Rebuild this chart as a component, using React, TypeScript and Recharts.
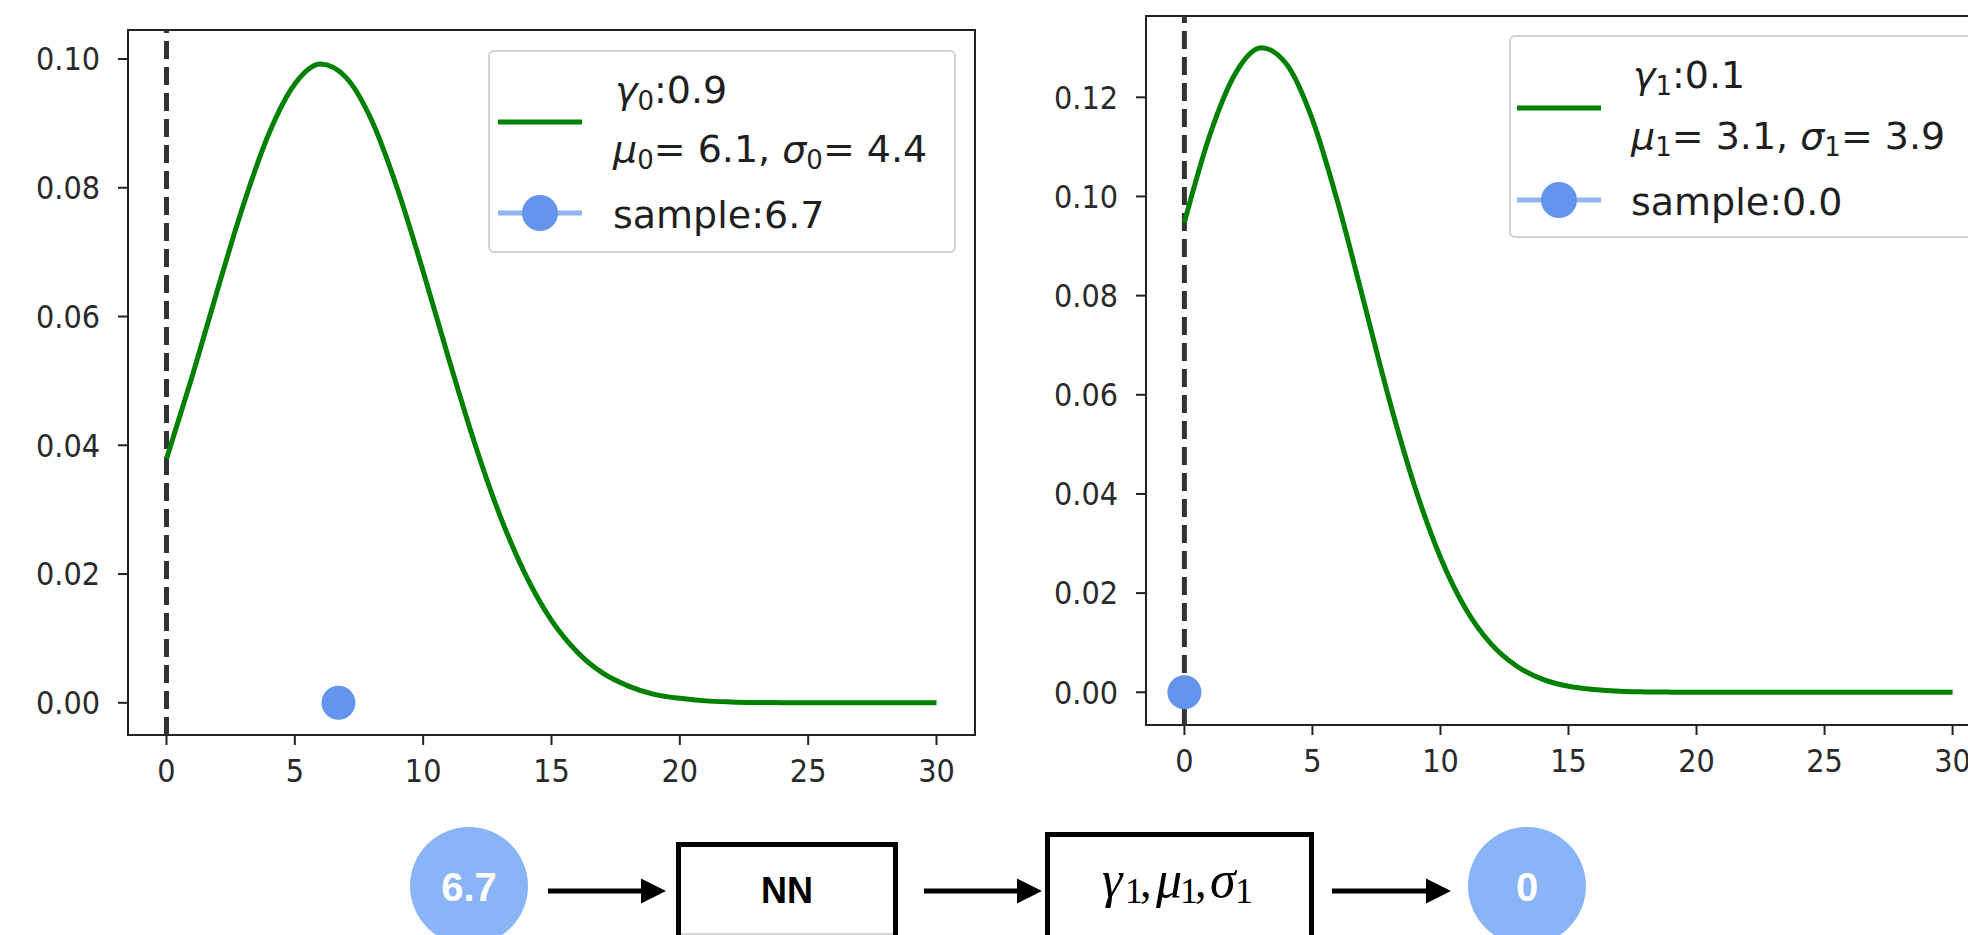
import React from "react";
import {
  ComposedChart,
  Line,
  Scatter,
  XAxis,
  YAxis,
  ReferenceLine,
  ReferenceArea,
  Legend,
} from "recharts";

// ---------------- data ----------------
const xValues = [
  0, 1, 2, 3, 4, 5, 6, 7, 8, 9, 10, 11, 12, 13, 14, 15, 16, 17, 18, 19, 20,
  21, 22, 23, 24, 25, 26, 27, 28, 29, 30,
];
const leftDensity = [
  0.0379, 0.0507, 0.0643, 0.0774, 0.0885, 0.0961, 0.0992, 0.0971, 0.0904,
  0.0798, 0.067, 0.0534, 0.0404, 0.029, 0.0198, 0.0128, 0.0079, 0.0046,
  0.0026, 0.0013, 0.0007, 0.0003, 0.00014, 0.00006, 0.00002, 0, 0, 0, 0, 0, 0,
];
const rightDensity = [
  0.0948, 0.1125, 0.1249, 0.13, 0.1266, 0.1155, 0.0986, 0.0789, 0.059, 0.0414,
  0.0272, 0.0167, 0.0096, 0.0052, 0.0026, 0.0012, 0.00055, 0.0002, 0.00008,
  0.00003, 0, 0, 0, 0, 0, 0, 0, 0, 0, 0, 0,
];
const gammaValues = [0.9, 0.1];
const muValues = [6.1, 3.1];
const sigmaValues = [4.4, 3.9];
const sampleValues = [6.7, 0.0];
const xTicks = [0, 5, 10, 15, 20, 25, 30];
const leftYTicks = [0, 0.02, 0.04, 0.06, 0.08, 0.1];
const rightYTicks = [0, 0.02, 0.04, 0.06, 0.08, 0.1, 0.12];
const xDomain: [number, number] = [-1.5, 31.5];
const leftYDomain: [number, number] = [-0.005, 0.1045];
const rightYDomain: [number, number] = [-0.0066, 0.1364];
const flowInput = "6.7";
const flowOutput = "0";

const leftData = xValues.map((x, i) => ({ x, y: leftDensity[i] }));
const rightData = xValues.map((x, i) => ({ x, y: rightDensity[i] }));
const leftSample = [{ x: sampleValues[0], y: 0 }];
const rightSample = [{ x: sampleValues[1], y: 0 }];

// ---------------- styles ----------------
const SANS = "'DejaVu Sans', sans-serif";
const SANS_COND = "'DejaVu Sans Condensed', 'DejaVu Sans', sans-serif";
const TXT = "#1f1f1f";
const TICK_TXT = "#2a2a2a";
const GREEN = "#008000";
const BLUE = "#6495ED";

type LegendCfg = {
  w: number;
  h: number;
  idx: number;
  textX: number;
  l1: number;
  l2: number;
  l3: number;
  gY: number;
  bY: number;
  hx1: number;
  hx2: number;
};

const LegendBox = ({ cfg }: { cfg: LegendCfg }) => {
  const i = cfg.idx;
  const sub = String(i);
  const fs = 38;
  const sfs = 26;
  return (
    <svg width={cfg.w} height={cfg.h} style={{ display: "block", overflow: "visible" }}>
      <rect
        x={1}
        y={1}
        width={cfg.w - 2}
        height={cfg.h - 2}
        rx={5}
        ry={5}
        fill="rgba(255,255,255,0.85)"
        stroke="#d2d2d2"
        strokeWidth={2}
      />
      <line x1={cfg.hx1} x2={cfg.hx2} y1={cfg.gY} y2={cfg.gY} stroke={GREEN} strokeWidth={5} />
      <line
        x1={cfg.hx1}
        x2={cfg.hx2}
        y1={cfg.bY}
        y2={cfg.bY}
        stroke={BLUE}
        strokeOpacity={0.7}
        strokeWidth={5}
      />
      <circle cx={(cfg.hx1 + cfg.hx2) / 2} cy={cfg.bY} r={18} fill={BLUE} />
      <text x={cfg.textX} y={cfg.l1} fontFamily={SANS} fontSize={fs} fill={TXT}>
        <tspan fontStyle="italic">γ</tspan>
        <tspan fontSize={sfs} dy={7}>{sub}</tspan>
        <tspan dy={-7}>{":" + gammaValues[i].toFixed(1)}</tspan>
      </text>
      <text x={cfg.textX - 2} y={cfg.l2} fontFamily={SANS} fontSize={fs} fill={TXT}>
        <tspan fontStyle="italic">μ</tspan>
        <tspan fontSize={sfs} dy={7}>{sub}</tspan>
        <tspan dy={-7}>{"= " + muValues[i].toFixed(1) + ", "}</tspan>
        <tspan fontStyle="italic">σ</tspan>
        <tspan fontSize={sfs} dy={7}>{sub}</tspan>
        <tspan dy={-7}>{"= " + sigmaValues[i].toFixed(1)}</tspan>
      </text>
      <text x={cfg.textX - 2} y={cfg.l3} fontFamily={SANS} fontSize={fs} fill={TXT}>
        {"sample:" + sampleValues[i].toFixed(1)}
      </text>
    </svg>
  );
};

const dotShape = (p: any) => <circle cx={p.cx} cy={p.cy} r={17} fill={BLUE} />;

const tickStyle = { fontSize: 32, fill: TICK_TXT, fontFamily: SANS_COND };

type PanelProps = {
  width: number;
  height: number;
  margin: { top: number; right: number; bottom: number; left: number };
  data: { x: number; y: number }[];
  sample: { x: number; y: number }[];
  yDomain: [number, number];
  yTicks: number[];
  legendCfg: LegendCfg;
  legendPos: { left: number; top: number };
};

const Panel = (p: PanelProps) => (
  <ComposedChart width={p.width} height={p.height} margin={p.margin}>
    <XAxis
      type="number"
      dataKey="x"
      domain={xDomain}
      ticks={xTicks}
      allowDataOverflow
      axisLine={false}
      tickSize={10}
      tickMargin={14}
      height={60}
      tickLine={{ stroke: "#222", strokeWidth: 2 }}
      tick={tickStyle}
      interval={0}
    />
    <YAxis
      type="number"
      dataKey="y"
      domain={p.yDomain}
      ticks={p.yTicks}
      allowDataOverflow
      axisLine={false}
      tickSize={10}
      tickMargin={18}
      width={120}
      tickLine={{ stroke: "#222", strokeWidth: 2 }}
      tick={tickStyle}
      tickFormatter={(v: number) => v.toFixed(2)}
      interval={0}
    />
    <ReferenceLine x={0} stroke="#333" strokeWidth={5} strokeDasharray="18 8" />
    <Line
      data={p.data}
      dataKey="y"
      type="monotone"
      stroke={GREEN}
      strokeWidth={5}
      dot={false}
      activeDot={false}
      isAnimationActive={false}
    />
    <Scatter data={p.sample} dataKey="y" fill={BLUE} shape={dotShape} isAnimationActive={false} />
    <ReferenceArea
      x1={xDomain[0]}
      x2={xDomain[1]}
      y1={p.yDomain[0]}
      y2={p.yDomain[1]}
      fill="none"
      fillOpacity={0}
      stroke="#222"
      strokeWidth={2}
      ifOverflow="visible"
    />
    <Legend
      layout="vertical"
      align="center"
      verticalAlign="middle"
      wrapperStyle={{
        left: p.legendPos.left,
        top: p.legendPos.top,
        width: p.legendCfg.w,
        height: p.legendCfg.h,
      }}
      content={() => <LegendBox cfg={p.legendCfg} />}
    />
  </ComposedChart>
);

const Arrow = ({ x1, x2, y }: { x1: number; x2: number; y: number }) => (
  <g>
    <line x1={x1} x2={x2 - 24} y1={y} y2={y} stroke="#000" strokeWidth={5} />
    <polygon points={`${x2 - 25},${y - 12.5} ${x2},${y} ${x2 - 25},${y + 12.5}`} fill="#000" />
  </g>
);

const SERIF = "'Liberation Serif', 'Times New Roman', serif";

const Flow = () => (
  <svg
    width={1968}
    height={935}
    style={{ position: "absolute", left: 0, top: 0, pointerEvents: "none" }}
  >
    <circle cx={469} cy={886} r={59} fill="#8AB4F8" />
    <text
      x={469}
      y={901}
      textAnchor="middle"
      fontFamily="'Liberation Sans', Arial, sans-serif"
      fontWeight="bold"
      fontSize={40}
      fill="#fff"
    >
      {flowInput}
    </text>
    <Arrow x1={548} x2={666} y={891} />
    <rect x={678.5} y={844.5} width={217} height={130} fill="#fff" stroke="#000" strokeWidth={5} />
    <line x1={681} x2={893} y1={934} y2={934} stroke="#c8c8c8" strokeWidth={1.5} />
    <text
      x={787}
      y={903}
      textAnchor="middle"
      fontFamily="'Liberation Sans', Arial, sans-serif"
      fontWeight="bold"
      fontSize={36}
      fill="#000"
    >
      NN
    </text>
    <Arrow x1={924} x2={1042} y={891} />
    <rect x={1047.5} y={834.5} width={264} height={140} fill="#fff" stroke="#000" strokeWidth={5} />
    <text fontFamily={SERIF} fill="#000">
      <tspan x={1102} y={897} fontStyle="italic" fontSize={52}>γ</tspan>
      <tspan x={1125} y={903} fontSize={36}>1</tspan>
      <tspan x={1140} y={897} fontSize={46}>,</tspan>
      <tspan x={1156} y={897} fontStyle="italic" fontSize={52}>μ</tspan>
      <tspan x={1180} y={903} fontSize={36}>1</tspan>
      <tspan x={1195} y={897} fontSize={46}>,</tspan>
      <tspan x={1210} y={897} fontStyle="italic" fontSize={52}>σ</tspan>
      <tspan x={1235} y={903} fontSize={36}>1</tspan>
    </text>
    <Arrow x1={1332} x2={1451} y={891} />
    <circle cx={1527} cy={886} r={59} fill="#8AB4F8" />
    <text
      x={1527}
      y={901}
      textAnchor="middle"
      fontFamily="'Liberation Sans', Arial, sans-serif"
      fontWeight="bold"
      fontSize={40}
      fill="#fff"
    >
      {flowOutput}
    </text>
  </svg>
);

const leftLegend: LegendCfg = {
  w: 468,
  h: 203,
  idx: 0,
  textX: 127,
  l1: 53,
  l2: 112,
  l3: 178,
  gY: 72,
  bY: 163,
  hx1: 10,
  hx2: 94,
};
const rightLegend: LegendCfg = {
  w: 470,
  h: 203,
  idx: 1,
  textX: 124,
  l1: 53,
  l2: 114,
  l3: 180,
  gY: 73,
  bY: 165,
  hx1: 8,
  hx2: 92,
};

export default function App() {
  return (
    <div
      style={{
        position: "fixed",
        left: 0,
        top: 0,
        width: 1968,
        height: 935,
        overflow: "hidden",
        background: "#fff",
      }}
    >
      <div style={{ position: "absolute", left: 0, top: 0 }}>
        <Panel
          width={990}
          height={800}
          margin={{ top: 30, right: 15, bottom: 5, left: 8 }}
          data={leftData}
          sample={leftSample}
          yDomain={leftYDomain}
          yTicks={leftYTicks}
          legendCfg={leftLegend}
          legendPos={{ left: 488, top: 50 }}
        />
      </div>
      <div style={{ position: "absolute", left: 1010, top: 0 }}>
        <Panel
          width={1000}
          height={800}
          margin={{ top: 16, right: 19, bottom: 15, left: 16 }}
          data={rightData}
          sample={rightSample}
          yDomain={rightYDomain}
          yTicks={rightYTicks}
          legendCfg={rightLegend}
          legendPos={{ left: 499, top: 35 }}
        />
      </div>
      <Flow />
    </div>
  );
}
